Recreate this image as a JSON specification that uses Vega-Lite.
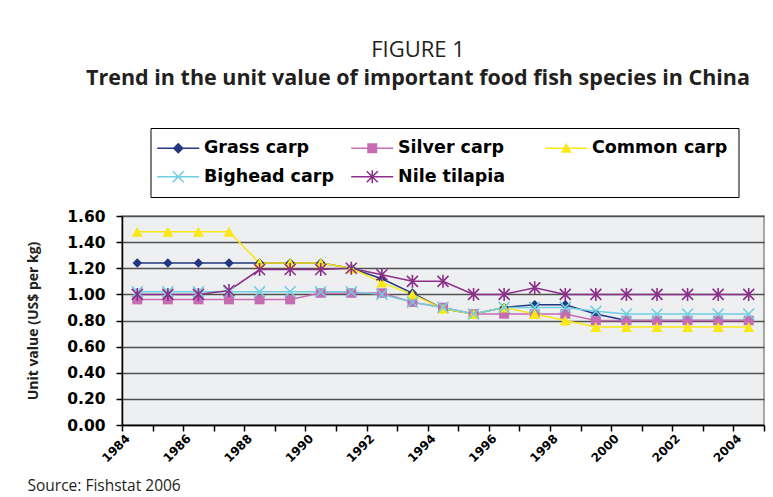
{
  "$schema": "https://vega.github.io/schema/vega-lite/v6.json",
  "width": 642,
  "height": 209,
  "autosize": {"type": "none"},
  "padding": {"left": 122, "top": 216, "right": 9, "bottom": 72},
  "background": "white",
  "title": {
    "text": "FIGURE 1",
    "subtitle": "Trend in the unit value of important food fish species in China",
    "anchor": "middle",
    "frame": "group",
    "dx": -25,
    "offset": 37,
    "font": "Open Sans",
    "fontSize": 22,
    "fontWeight": "normal",
    "color": "#231f20",
    "subtitleFont": "Open Sans",
    "subtitleFontSize": 21.5,
    "subtitleFontWeight": "bold",
    "subtitleColor": "#231f20",
    "subtitlePadding": 6
  },
  "config": {
    "view": {"fill": "#EEEFF1", "stroke": "#8c8c8c", "strokeWidth": 1.5}
  },
  "data": {
    "values": [
      {"year": 1984, "series": "Grass carp", "value": 1.24},
      {"year": 1985, "series": "Grass carp", "value": 1.24},
      {"year": 1986, "series": "Grass carp", "value": 1.24},
      {"year": 1987, "series": "Grass carp", "value": 1.24},
      {"year": 1988, "series": "Grass carp", "value": 1.24},
      {"year": 1989, "series": "Grass carp", "value": 1.24},
      {"year": 1990, "series": "Grass carp", "value": 1.24},
      {"year": 1991, "series": "Grass carp", "value": 1.20},
      {"year": 1992, "series": "Grass carp", "value": 1.12},
      {"year": 1993, "series": "Grass carp", "value": 1.01},
      {"year": 1994, "series": "Grass carp", "value": 0.89},
      {"year": 1995, "series": "Grass carp", "value": 0.85},
      {"year": 1996, "series": "Grass carp", "value": 0.90},
      {"year": 1997, "series": "Grass carp", "value": 0.92},
      {"year": 1998, "series": "Grass carp", "value": 0.92},
      {"year": 1999, "series": "Grass carp", "value": 0.85},
      {"year": 2000, "series": "Grass carp", "value": 0.80},
      {"year": 2001, "series": "Grass carp", "value": 0.80},
      {"year": 2002, "series": "Grass carp", "value": 0.80},
      {"year": 2003, "series": "Grass carp", "value": 0.80},
      {"year": 2004, "series": "Grass carp", "value": 0.80},
      {"year": 1984, "series": "Silver carp", "value": 0.96},
      {"year": 1985, "series": "Silver carp", "value": 0.96},
      {"year": 1986, "series": "Silver carp", "value": 0.96},
      {"year": 1987, "series": "Silver carp", "value": 0.96},
      {"year": 1988, "series": "Silver carp", "value": 0.96},
      {"year": 1989, "series": "Silver carp", "value": 0.96},
      {"year": 1990, "series": "Silver carp", "value": 1.01},
      {"year": 1991, "series": "Silver carp", "value": 1.01},
      {"year": 1992, "series": "Silver carp", "value": 1.01},
      {"year": 1993, "series": "Silver carp", "value": 0.94},
      {"year": 1994, "series": "Silver carp", "value": 0.90},
      {"year": 1995, "series": "Silver carp", "value": 0.85},
      {"year": 1996, "series": "Silver carp", "value": 0.85},
      {"year": 1997, "series": "Silver carp", "value": 0.85},
      {"year": 1998, "series": "Silver carp", "value": 0.85},
      {"year": 1999, "series": "Silver carp", "value": 0.80},
      {"year": 2000, "series": "Silver carp", "value": 0.80},
      {"year": 2001, "series": "Silver carp", "value": 0.80},
      {"year": 2002, "series": "Silver carp", "value": 0.80},
      {"year": 2003, "series": "Silver carp", "value": 0.80},
      {"year": 2004, "series": "Silver carp", "value": 0.80},
      {"year": 1984, "series": "Common carp", "value": 1.48},
      {"year": 1985, "series": "Common carp", "value": 1.48},
      {"year": 1986, "series": "Common carp", "value": 1.48},
      {"year": 1987, "series": "Common carp", "value": 1.48},
      {"year": 1988, "series": "Common carp", "value": 1.24},
      {"year": 1989, "series": "Common carp", "value": 1.24},
      {"year": 1990, "series": "Common carp", "value": 1.24},
      {"year": 1991, "series": "Common carp", "value": 1.20},
      {"year": 1992, "series": "Common carp", "value": 1.09},
      {"year": 1993, "series": "Common carp", "value": 1.00},
      {"year": 1994, "series": "Common carp", "value": 0.89},
      {"year": 1995, "series": "Common carp", "value": 0.85},
      {"year": 1996, "series": "Common carp", "value": 0.90},
      {"year": 1997, "series": "Common carp", "value": 0.85},
      {"year": 1998, "series": "Common carp", "value": 0.80},
      {"year": 1999, "series": "Common carp", "value": 0.75},
      {"year": 2000, "series": "Common carp", "value": 0.75},
      {"year": 2001, "series": "Common carp", "value": 0.75},
      {"year": 2002, "series": "Common carp", "value": 0.75},
      {"year": 2003, "series": "Common carp", "value": 0.75},
      {"year": 2004, "series": "Common carp", "value": 0.75},
      {"year": 1984, "series": "Bighead carp", "value": 1.02},
      {"year": 1985, "series": "Bighead carp", "value": 1.02},
      {"year": 1986, "series": "Bighead carp", "value": 1.02},
      {"year": 1987, "series": "Bighead carp", "value": 1.02},
      {"year": 1988, "series": "Bighead carp", "value": 1.02},
      {"year": 1989, "series": "Bighead carp", "value": 1.02},
      {"year": 1990, "series": "Bighead carp", "value": 1.02},
      {"year": 1991, "series": "Bighead carp", "value": 1.02},
      {"year": 1992, "series": "Bighead carp", "value": 1.00},
      {"year": 1993, "series": "Bighead carp", "value": 0.94},
      {"year": 1994, "series": "Bighead carp", "value": 0.90},
      {"year": 1995, "series": "Bighead carp", "value": 0.85},
      {"year": 1996, "series": "Bighead carp", "value": 0.90},
      {"year": 1997, "series": "Bighead carp", "value": 0.90},
      {"year": 1998, "series": "Bighead carp", "value": 0.90},
      {"year": 1999, "series": "Bighead carp", "value": 0.87},
      {"year": 2000, "series": "Bighead carp", "value": 0.85},
      {"year": 2001, "series": "Bighead carp", "value": 0.85},
      {"year": 2002, "series": "Bighead carp", "value": 0.85},
      {"year": 2003, "series": "Bighead carp", "value": 0.85},
      {"year": 2004, "series": "Bighead carp", "value": 0.85},
      {"year": 1984, "series": "Nile tilapia", "value": 1.00},
      {"year": 1985, "series": "Nile tilapia", "value": 1.00},
      {"year": 1986, "series": "Nile tilapia", "value": 1.00},
      {"year": 1987, "series": "Nile tilapia", "value": 1.03},
      {"year": 1988, "series": "Nile tilapia", "value": 1.19},
      {"year": 1989, "series": "Nile tilapia", "value": 1.19},
      {"year": 1990, "series": "Nile tilapia", "value": 1.19},
      {"year": 1991, "series": "Nile tilapia", "value": 1.20},
      {"year": 1992, "series": "Nile tilapia", "value": 1.15},
      {"year": 1993, "series": "Nile tilapia", "value": 1.10},
      {"year": 1994, "series": "Nile tilapia", "value": 1.10},
      {"year": 1995, "series": "Nile tilapia", "value": 1.00},
      {"year": 1996, "series": "Nile tilapia", "value": 1.00},
      {"year": 1997, "series": "Nile tilapia", "value": 1.05},
      {"year": 1998, "series": "Nile tilapia", "value": 1.00},
      {"year": 1999, "series": "Nile tilapia", "value": 1.00},
      {"year": 2000, "series": "Nile tilapia", "value": 1.00},
      {"year": 2001, "series": "Nile tilapia", "value": 1.00},
      {"year": 2002, "series": "Nile tilapia", "value": 1.00},
      {"year": 2003, "series": "Nile tilapia", "value": 1.00},
      {"year": 2004, "series": "Nile tilapia", "value": 1.00}
    ]
  },
  "encoding": {
    "x": {
      "field": "year",
      "type": "ordinal",
      "scale": {"paddingInner": 0, "paddingOuter": 0},
      "axis": {
        "title": "Source: Fishstat 2006",
        "titleX": -95,
        "titleY": 65,
        "titleAlign": "left",
        "titleAnchor": null,
        "titleBaseline": "alphabetic",
        "titleFont": "Open Sans",
        "titleFontWeight": "normal",
        "titleFontSize": 15.5,
        "titleColor": "#231f20",
        "labelExpr": "datum.value % 2 == 0 ? datum.label : ''",
        "labelAngle": -45,
        "labelAlign": "right",
        "labelBaseline": "middle",
        "labelOverlap": false,
        "labelBound": false,
        "labelFont": "DejaVu Sans",
        "labelFontWeight": "bold",
        "labelFontSize": 12,
        "labelColor": "black",
        "labelOffset": -10,
        "labelPadding": 5,
        "tickBand": "extent",
        "tickSize": 6,
        "tickWidth": 1.5,
        "tickColor": "black",
        "domainColor": "black",
        "domainWidth": 1.5,
        "grid": false
      }
    },
    "y": {
      "field": "value",
      "type": "quantitative",
      "scale": {"domain": [0, 1.6]},
      "axis": {
        "title": "Unit value (US$ per kg)",
        "titleFont": "Open Sans",
        "titleFontWeight": "bold",
        "titleFontSize": 14,
        "titleColor": "#231f20",
        "titlePadding": 26,
        "values": [0, 0.2, 0.4, 0.6, 0.8, 1.0, 1.2, 1.4, 1.6],
        "format": ".2f",
        "labelFont": "DejaVu Sans",
        "labelFontWeight": "bold",
        "labelFontSize": 15.5,
        "labelColor": "black",
        "labelPadding": 11,
        "tickSize": 6,
        "tickWidth": 1.5,
        "tickColor": "black",
        "domainColor": "black",
        "domainWidth": 1.5,
        "grid": true,
        "gridColor": "#505050",
        "gridWidth": 1.6
      }
    },
    "color": {
      "field": "series",
      "type": "nominal",
      "scale": {
        "domain": ["Grass carp", "Silver carp", "Common carp", "Bighead carp", "Nile tilapia"],
        "range": ["#23367F", "#C56CB2", "#F9E814", "#6FCFE0", "#8B2F8B"]
      },
      "legend": null
    }
  },
  "layer": [
    {
      "mark": {"type": "line", "strokeWidth": 1.5},
      "encoding": {"detail": {"field": "series"}}
    },
    {
      "transform": [{"filter": {"field": "series", "oneOf": ["Grass carp", "Silver carp", "Common carp"]}}],
      "mark": {"type": "point", "filled": true, "opacity": 1, "size": 100},
      "encoding": {
        "shape": {
          "field": "series",
          "scale": {
            "domain": ["Grass carp", "Silver carp", "Common carp", "Bighead carp", "Nile tilapia"],
            "range": ["M0,-0.95L0.95,0L0,0.95L-0.95,0Z", "M-1,-0.95H1V0.95H-1Z", "M0,-1L1.1,1H-1.1Z", "M-1.1,-1.1L1.1,1.1M-1.1,1.1L1.1,-1.1", "M-1.1,-1.1L1.1,1.1M-1.1,1.1L1.1,-1.1M0,-1.3V1.3"]
          },
          "legend": null
        }
      }
    },
    {
      "transform": [{"filter": {"field": "series", "oneOf": ["Bighead carp", "Nile tilapia"]}}],
      "mark": {"type": "point", "filled": false, "opacity": 1, "size": 100, "strokeWidth": 1.6},
      "encoding": {
        "shape": {
          "field": "series",
          "scale": {
            "domain": ["Grass carp", "Silver carp", "Common carp", "Bighead carp", "Nile tilapia"],
            "range": ["M0,-0.95L0.95,0L0,0.95L-0.95,0Z", "M-1,-0.95H1V0.95H-1Z", "M0,-1L1.1,1H-1.1Z", "M-1.1,-1.1L1.1,1.1M-1.1,1.1L1.1,-1.1", "M-1.1,-1.1L1.1,1.1M-1.1,1.1L1.1,-1.1M0,-1.3V1.3"]
          },
          "legend": null
        }
      }
    },
    {
      "mark": {"type": "point", "filled": true, "opacity": 0, "size": 100},
      "encoding": {
        "shape": {
          "field": "series",
          "scale": {
            "domain": ["Grass carp", "Silver carp", "Common carp", "Bighead carp", "Nile tilapia"],
            "range": [
              "M-4.2,-0.15H4.2V0.15H-4.2ZM0,-1.1L1.1,0L0,1.1L-1.1,0Z",
              "M-4.2,-0.15H4.2V0.15H-4.2ZM-1,-1H1V1H-1Z",
              "M-4.2,-0.15H4.2V0.15H-4.2ZM0,-1.1L1.1,0.9H-1.1Z",
              "M-4.2,-0.15H4.2V0.15H-4.2ZM-0.99,-1.21L1.21,0.99L0.99,1.21L-1.21,-0.99ZM-1.21,0.99L0.99,-1.21L1.21,-0.99L-0.99,1.21Z",
              "M-4.2,-0.15H4.2V0.15H-4.2ZM-0.99,-1.21L1.21,0.99L0.99,1.21L-1.21,-0.99ZM-1.21,0.99L0.99,-1.21L1.21,-0.99L-0.99,1.21ZM-0.15,-1.3H0.15V1.3H-0.15Z"
            ]
          },
          "legend": null
        },
        "color": {
          "field": "series",
          "type": "nominal",
          "scale": {
            "domain": ["Grass carp", "Silver carp", "Common carp", "Bighead carp", "Nile tilapia"],
            "range": ["#23367F", "#C56CB2", "#F9E814", "#6FCFE0", "#8B2F8B"]
          },
          "legend": {
            "orient": "none",
            "legendX": 28.5,
            "legendY": -88,
            "direction": "horizontal",
            "columns": 3,
            "title": null,
            "gridAlign": "all",
            "padding": 11,
            "strokeColor": "black",
            "fillColor": "white",
            "symbolSize": 100,
            "symbolOpacity": 1,
            "symbolOffset": 8,
            "labelOffset": 17,
            "labelFont": "DejaVu Sans",
            "labelFontWeight": "bold",
            "labelFontSize": 17.5,
            "labelColor": "black",
            "labelLimit": 300,
            "columnPadding": 11,
            "rowPadding": 10
          }
        }
      }
    }
  ],
  "resolve": {"scale": {"color": "independent", "shape": "independent"}}
}
